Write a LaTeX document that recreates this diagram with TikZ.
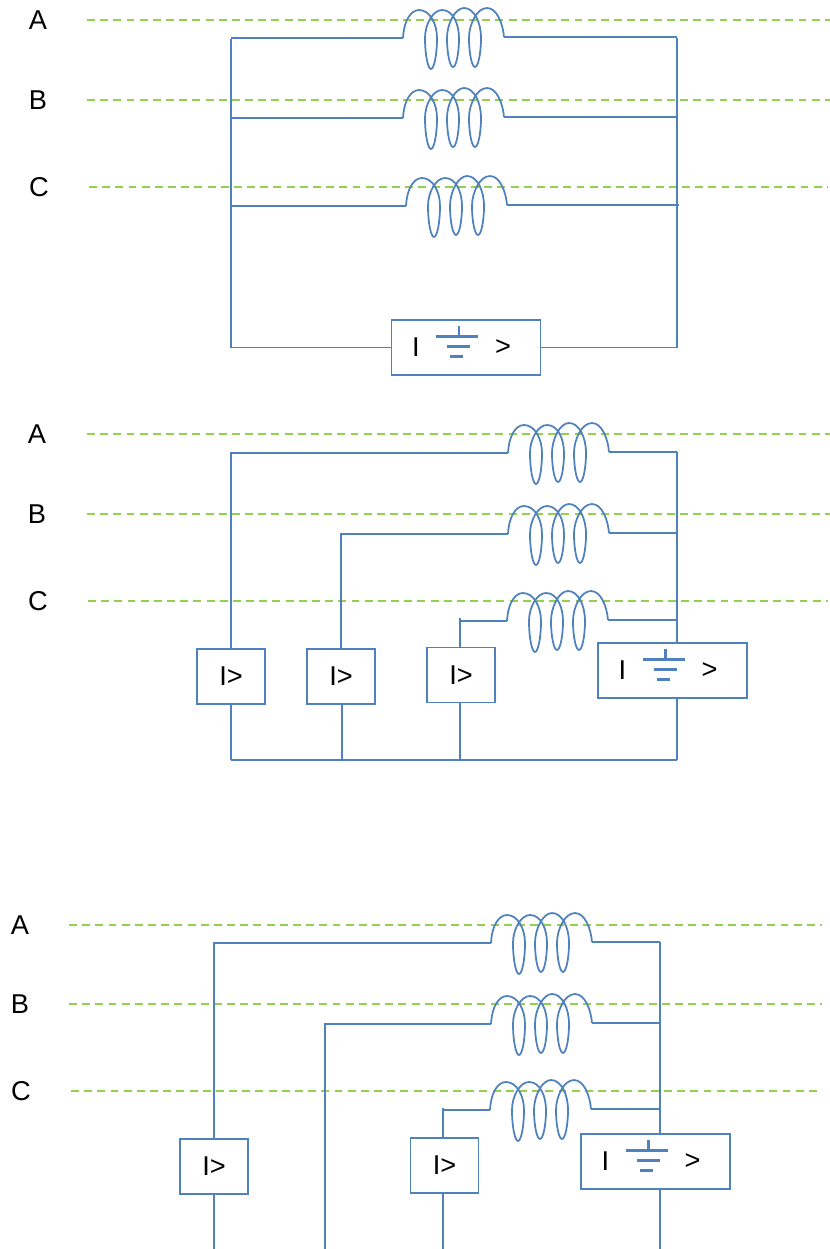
\documentclass[tikz,border=0pt]{standalone}
\usepackage{fontspec}
\setmainfont{Liberation Sans}
\usepackage{tikz}
\usetikzlibrary{positioning,calc}
\definecolor{wireblue}{HTML}{4F81BD}
\definecolor{phasegreen}{HTML}{92D050}
\tikzset{
  wire/.style={wireblue, line width=1pt},
  phase/.style={phasegreen, line width=0.9pt, dash pattern=on 4.5pt off 3pt},
  phasename/.style={font=\fontsize{15.5}{18}\selectfont},
  relay/.style={draw=wireblue, line width=1.1pt, minimum width=1.36cm, minimum height=1.1cm, inner sep=0pt, font=\fontsize{15.5}{18}\selectfont},
  coil/.pic={
    \coordinate (-in) at (0,0);
    \coordinate (-out) at (101,-1);
    \draw[wire] (-in) .. controls (1,-18) and (8,-28) .. (16,-28)
      .. controls (27,-28) and (34,-14) .. (34,0)
      .. controls (34,17) and (31,31) .. (28,31)
      .. controls (25,31) and (22,17) .. (22,0)
      .. controls (22,-14) and (30,-28) .. (39,-28)
      .. controls (50,-28) and (56,-14) .. (56,0)
      .. controls (56,16) and (53,29) .. (50,29)
      .. controls (47,29) and (44,16) .. (44,0)
      .. controls (44,-14) and (52,-30) .. (61,-30)
      .. controls (71,-30) and (78,-16) .. (78,0)
      .. controls (78,16) and (75,29) .. (72,29)
      .. controls (69,29) and (66,16) .. (66,0)
      .. controls (66,-14) and (74,-30) .. (84,-30)
      .. controls (94,-30) and (100,-14) .. (-out);
  },
  earthrelay/.pic={
    \node[relay, minimum width=2.98cm] (-box) at (0,0) {};
    \node[font=\fontsize{15.5}{18}\selectfont] (-i) at (-50,0) {I};
    \node[font=\fontsize{15.5}{18}\selectfont] (-gt) at (37,0) {>};
    \draw[wire, line width=1.2pt] (-7,-22) -- (-7,-11);
    \draw[wire, line width=1.2pt] (-30,-11) -- (12,-11);
    \draw[wire, line width=1.2pt] (-19,-1) -- (4,-1);
    \draw[wire, line width=1.2pt] (-16,9) -- (-3,9);
  }
}
\begin{document}
\begin{tikzpicture}[x=0.02cm, y=-0.02cm]
  \useasboundingbox (0,0) rectangle (830,1249);

  % phase lines
  \foreach \n/\t/\xt/\xa/\xb/\y in {aa/A/38/87/830/20, ab/B/38/87/830/100, ac/C/39/89/828/187,
      ba/A/37/87/830/434, bb/B/37/87/830/514, bc/C/38/88/828/601,
      ca/A/20/69/822/925, cb/B/20/69/822/1004, cc/C/21/71/822/1091} {
    \node[phasename] (name\n) at (\xt,\y) {\t};
    \coordinate (pl\n) at (\xa,\y);
    \coordinate (pr\n) at (\xb,\y);
    \draw[phase] (pl\n) -- (pr\n);
  }

  % first circuit
  \pic (aa) at (403,38) {coil};
  \pic (ab) at (403,118) {coil};
  \pic (ac) at (406,206) {coil};
  \pic (ae) at (466,347.5) {earthrelay};
  \coordinate (atl) at (231,39);
  \coordinate (abl) at (231,347.5);
  \coordinate (atr) at (677,38);
  \coordinate (abr) at (677,347.5);
  \draw[wire] (atl) -- (abl);
  \draw[wire] (atr) -- (abr);
  \draw[wire] (aa-in -| atl) -- (aa-in);
  \draw[wire] (aa-out) -- (aa-out -| atr);
  \draw[wire] (ab-in -| atl) -- (ab-in);
  \draw[wire] (ab-out) -- (ab-out -| atr);
  \draw[wire] (ac-in -| atl) -- (ac-in);
  \draw[wire] ($(ac-out)$) -- ($(ac-out -| atr)+(2,0)$);
  \draw[wire] (abl) -- (ae-box.west);
  \draw[wire] (ae-box.east) -- (abr);

  % second circuit
  \pic (ba) at (508,453) {coil};
  \pic (bb) at (508,534) {coil};
  \pic (bc) at (507,621) {coil};
  \node[relay] (bra) at (231,676.5) {I>};
  \node[relay] (brb) at (341,676.5) {I>};
  \node[relay] (brc) at (461,675) {I>};
  \pic (be) at (672.5,670.5) {earthrelay};
  \coordinate (bbl) at (231,760);
  \coordinate (bbb) at (342,760);
  \coordinate (bbc) at (460,760);
  \coordinate (bbr) at (677,760);
  \coordinate (bst) at (460,618);
  \coordinate (btr) at (677,452);
  \draw[wire] (bra.north) |- (ba-in);
  \draw[wire] (brb.north) |- (bb-in);
  \draw[wire] (bst) -- (bst |- brc.north);
  \draw[wire] (bst |- bc-in) -- (bc-in);
  \draw[wire] (ba-out) -- (btr);
  \draw[wire] (bb-out) -- (bb-out -| btr);
  \draw[wire] (bc-out) -- (bc-out -| btr);
  \draw[wire] (btr) -- (btr |- be-box.north);
  \draw[wire] (bra.south) -- (bbl);
  \draw[wire] (brb.south -| bbb) -- (bbb);
  \draw[wire] (brc.south -| bbc) -- (bbc);
  \draw[wire] (btr |- be-box.south) -- (bbr);
  \draw[wire] (bbl) -- (bbr);

  % third circuit
  \pic (ca) at (491,943) {coil};
  \pic (cb) at (491,1024) {coil};
  \pic (cc) at (490,1110) {coil};
  \node[relay] (cra) at (214,1166.5) {I>};
  \node[relay] (crc) at (444.5,1165.5) {I>};
  \pic (ce) at (655.5,1161.5) {earthrelay};
  \coordinate (cbl) at (214,1249);
  \coordinate (cbb) at (325,1249);
  \coordinate (cbc) at (443,1249);
  \coordinate (cbr) at (660,1249);
  \coordinate (cst) at (443,1108);
  \coordinate (ctr) at (660,942);
  \draw[wire] (cra.north) |- (ca-in);
  \draw[wire] (cbb) |- (cb-in);
  \draw[wire] (cst) -- (cst |- crc.north);
  \draw[wire] (cst |- cc-in) -- (cc-in);
  \draw[wire] (ca-out) -- (ctr);
  \draw[wire] (cb-out) -- (cb-out -| ctr);
  \draw[wire] (cc-out) -- (cc-out -| ctr);
  \draw[wire] (ctr) -- (ctr |- ce-box.north);
  \draw[wire] (cra.south) -- (cbl);
  \draw[wire] (crc.south -| cbc) -- (cbc);
  \draw[wire] (ctr |- ce-box.south) -- (cbr);
\end{tikzpicture}
\end{document}
